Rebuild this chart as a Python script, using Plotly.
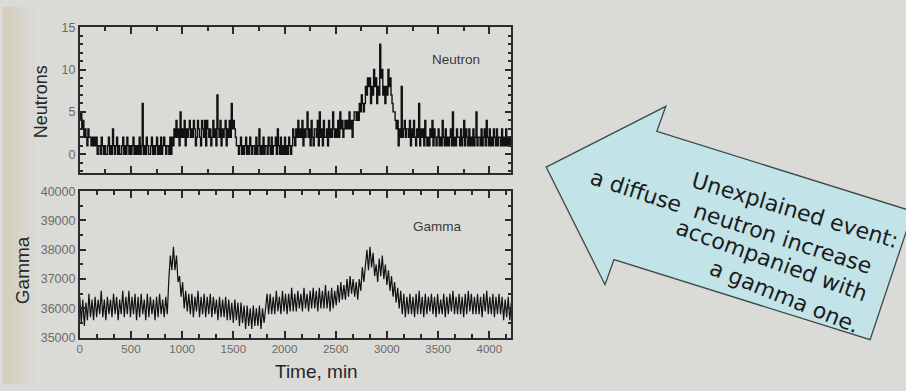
import plotly.graph_objects as go

W, H = 906, 391


def px_x(x):
    return x / W


def px_y(y):
    return 1 - y / H


# ---------------- data ----------------
time_neutron = list(range(0, 4230, 10))
neutron_counts = [
    4, 5, 3, 4, 2, 3, 2, 1, 3, 2, 2, 1, 2, 1, 2, 1, 2, 0, 1, 1,
    0, 2, 1, 0, 1, 0, 0, 1, 2, 0, 1, 0, 3, 1, 0, 1, 2, 0, 1, 0,
    0, 1, 2, 0, 1, 0, 2, 1, 0, 1, 0, 1, 2, 0, 1, 0, 1, 0, 2, 0,
    1, 6, 0, 1, 0, 2, 1, 0, 0, 1, 2, 0, 1, 0, 1, 2, 0, 1, 0, 2,
    0, 1, 2, 1, 0, 1, 1, 0, 2, 0, 2, 1, 3, 2, 4, 2, 3, 1, 5, 2,
    3, 2, 4, 1, 3, 2, 3, 4, 2, 3, 2, 4, 3, 1, 2, 4, 3, 2, 1, 4,
    3, 2, 4, 1, 4, 3, 2, 3, 1, 2, 4, 2, 3, 1, 7, 3, 2, 4, 1, 3,
    2, 3, 4, 1, 3, 2, 4, 2, 6, 3, 4, 3, 2, 1, 1, 0, 1, 2, 0, 1,
    0, 1, 2, 0, 1, 0, 2, 1, 0, 1, 1, 0, 2, 0, 1, 3, 0, 1, 0, 2,
    0, 1, 1, 0, 2, 1, 0, 2, 0, 1, 1, 2, 0, 3, 1, 0, 2, 0, 1, 0,
    2, 0, 1, 0, 2, 1, 0, 1, 3, 2, 1, 3, 2, 4, 2, 3, 2, 4, 1, 3,
    2, 3, 5, 2, 3, 1, 4, 2, 1, 3, 3, 2, 4, 1, 5, 2, 3, 1, 4, 2,
    2, 3, 1, 4, 2, 3, 2, 5, 3, 2, 3, 2, 4, 2, 5, 3, 4, 2, 3, 4,
    3, 4, 3, 5, 3, 4, 2, 4, 5, 5, 4, 5, 4, 6, 5, 7, 6, 5, 6, 8,
    7, 9, 8, 9, 6, 8, 7, 10, 8, 9, 6, 8, 7, 13, 9, 10, 7, 8, 6, 8,
    7, 10, 8, 9, 7, 6, 5, 5, 4, 3, 4, 1, 3, 2, 8, 2, 3, 4, 2, 3,
    3, 2, 4, 1, 3, 2, 4, 2, 1, 3, 2, 6, 1, 3, 2, 3, 1, 4, 2, 1,
    2, 1, 3, 2, 4, 1, 3, 2, 1, 2, 3, 1, 2, 1, 4, 2, 1, 3, 1, 2,
    1, 2, 3, 1, 5, 1, 2, 1, 3, 2, 2, 1, 3, 1, 2, 4, 1, 3, 2, 1,
    3, 1, 2, 1, 3, 1, 2, 5, 1, 2, 2, 1, 3, 1, 2, 3, 1, 4, 2, 1,
    3, 1, 2, 1, 3, 2, 1, 3, 1, 2, 2, 1, 3, 1, 2, 1, 3, 1, 2, 1,
    2, 1, 3,
]

time_gamma = list(range(0, 4230, 15))
gamma_counts = [
    36400, 35500, 36300, 35400, 36200, 35600, 36500, 35700, 36300, 35600,
    36400, 35700, 36300, 35800, 36600, 35700, 36300, 35600, 36400, 35800,
    36300, 35700, 36500, 35800, 36400, 35600, 36300, 35800, 36600, 35700,
    36400, 35800, 36600, 35700, 36400, 35800, 36500, 35600, 36400, 35700,
    36500, 35800, 36300, 35600, 36500, 35700, 36400, 35800, 36300, 35600,
    36400, 35700, 36500, 35800, 36300, 35700, 36400, 35800,
    37000, 37800, 37300, 38100, 37300, 37800, 36900, 37100, 36400, 36900,
    36000, 36600, 35900, 36500,
    35800, 36500, 35700, 36400, 35900, 36600, 35700, 36400, 35800, 36500,
    35700, 36400, 35800, 36500, 35700, 36400, 35800, 36300, 35600, 36400,
    35700, 36300, 35700, 36400, 35600, 36300, 35600, 36200,
    35500, 36300, 35600, 36200, 35400, 36200, 35500, 36100, 35300, 36100,
    35400, 36000, 35300, 36100, 35400, 36000, 35400, 36100, 35300, 36000,
    35500, 35900,
    36500, 35800, 36500, 35800, 36400, 35800, 36600, 35900, 36400, 35800,
    36600, 35900, 36500, 35800, 36500, 35900, 36700, 35900, 36500, 35900,
    36600, 36000, 36500, 35900, 36700, 36000, 36500, 35900, 36600, 36000,
    36700, 36000, 36600, 35900, 36700, 36000, 36600, 36000, 36800, 36000,
    36600, 35900, 36700, 36000, 36600,
    36100, 36800, 36200, 36900, 36300, 36800, 36300, 37000, 36400, 37100,
    36500, 37000, 36400, 36900, 36300, 37000, 36600, 37400, 36900,
    37600, 38000, 37300, 38100, 37400, 37900, 37100, 37500, 36900, 37700,
    37100, 37800, 37000, 37500, 36800, 37300, 36600, 37100, 36400, 36900,
    36200, 36700, 36000, 36600,
    35800, 36500, 35700, 36400, 35800, 36500, 35800, 36400, 35700, 36500,
    35800, 36600, 35800, 36400, 35700, 36500, 35800, 36400, 35900, 36500,
    35800, 36400, 35700, 36500, 35800, 36300, 35800, 36500, 35700, 36400,
    35800, 36500, 35900, 36600, 35800, 36400, 35800, 36500, 35800, 36400,
    35700, 36500, 35800, 36600, 35900, 36500, 35800, 36400, 35800, 36500,
    35800, 36400, 35700, 36500, 35900, 36600, 35800, 36400, 35800, 36500,
    35700, 36400, 35800, 36500, 35800, 36400, 35600, 36300, 35700, 36400,
    35600, 36200,
]

neutron_ticks = [0, 5, 10, 15]
gamma_ticks = [35000, 36000, 37000, 38000, 39000, 40000]
time_ticks = [0, 500, 1000, 1500, 2000, 2500, 3000, 3500, 4000]

callout_lines = [
    "Unexplained event:",
    "a diffuse  neutron increase",
    "accompanied with",
    "a gamma one.",
]

# ---------------- figure ----------------
BG = "#dadad7"
INK = "#111111"
AX = "#2b2b2b"
LBL = "#6a6a6a"
FONT = "Liberation Sans, Arial, sans-serif"

fig = go.Figure()
fig.add_trace(go.Scatter(
    x=time_neutron, y=neutron_counts, xaxis="x2", yaxis="y2", mode="lines",
    line=dict(color=INK, width=1.4, shape="hv"), showlegend=False, hoverinfo="skip"))
fig.add_trace(go.Scatter(
    x=time_gamma, y=gamma_counts, xaxis="x", yaxis="y", mode="lines",
    line=dict(color=INK, width=1.2), showlegend=False, hoverinfo="skip"))

base = dict(showline=True, linecolor=AX, linewidth=1.5, mirror="ticks",
            ticks="inside", ticklen=7, tickwidth=1.5, tickcolor=AX,
            showgrid=False, zeroline=False)


def minor(dt, t0):
    return dict(ticks="inside", ticklen=4, tickwidth=1.5, tickcolor=AX, tick0=t0, dtick=dt)


xdom = [px_x(77), px_x(510)]
fig.update_layout(
    width=W, height=H,
    margin=dict(l=0, r=0, t=0, b=0),
    paper_bgcolor=BG, plot_bgcolor=BG,
    font=dict(family=FONT, color=INK),
    xaxis=dict(**base, domain=xdom, anchor="y", range=[0, 4215],
               tickvals=time_ticks, ticktext=[str(v) for v in time_ticks],
               minor=minor(500 / 3, 0),
               tickfont=dict(size=11.5, color=LBL, family=FONT)),
    xaxis2=dict(**base, domain=xdom, anchor="y2", range=[0, 4215], matches="x",
                tickvals=time_ticks, showticklabels=False, minor=minor(250, 0)),
    yaxis=dict(**base, domain=[px_y(343), px_y(191)], anchor="x",
               range=[35000, 40000], tickvals=gamma_ticks,
               ticktext=[str(v) for v in gamma_ticks], minor=minor(500, 35000),
               tickfont=dict(size=12.5, color=LBL, family=FONT)),
    yaxis2=dict(**base, domain=[px_y(172), px_y(21)], anchor="x2",
                range=[-2.2, 15], tickvals=neutron_ticks,
                ticktext=[str(v) for v in neutron_ticks], minor=minor(1, 0),
                tickfont=dict(size=12.5, color=LBL, family=FONT)),
)

# faint warm tint at the left edge of the photographed slide (decoration)
for x1, op in [(4, 0.35), (9, 0.3), (14, 0.25), (19, 0.2), (25, 0.15), (32, 0.1)]:
    fig.add_shape(type="rect", xref="paper", yref="paper", x0=0, x1=px_x(x1), y0=0, y1=1,
                  fillcolor="#d4cbb2", opacity=op, line=dict(width=0), layer="below")

# callout arrow (decoration)
arrow_px = [(545, 166), (665, 103), (656, 129), (913, 212), (870, 345),
            (613, 262), (604, 288)]
path = "M " + " L ".join(f"{px_x(x):.5f},{px_y(y):.5f}" for x, y in arrow_px) + " Z"
fig.add_shape(type="path", xref="paper", yref="paper", path=path,
              fillcolor="#c2e4e8", line=dict(color="#3c4848", width=1.3), layer="above")

annotations = [
    dict(text="Neutrons", x=px_x(39), y=px_y(98), textangle=-90, font=dict(size=18, color="#262626")),
    dict(text="Gamma", x=px_x(19), y=px_y(273), textangle=-90, font=dict(size=19, color="#262626")),
    dict(text="Time, min", x=px_x(315), y=px_y(378), font=dict(size=19, color="#262626")),
    dict(text="Neutron", x=px_x(455), y=px_y(54), font=dict(size=13.5, color="#3a3a3a")),
    dict(text="Gamma", x=px_x(436), y=px_y(228), font=dict(size=13.5, color="#3a3a3a")),
]
line_places = [(795, 211, 16.7), (730, 222, 17.9), (771, 263, 19.8), (784, 300, 22.0)]
for txt, (cx, cy, ang) in zip(callout_lines, line_places):
    annotations.append(dict(text=txt.replace("  ", "&nbsp; "), x=px_x(cx), y=px_y(cy),
                            textangle=ang,
                            font=dict(size=22, color="#1c1c1c", family="DejaVu Sans")))
for a in annotations:
    a.update(xref="paper", yref="paper", showarrow=False, xanchor="center", yanchor="middle")
    a["font"].setdefault("family", FONT)
fig.update_layout(annotations=annotations)

fig.write_html("out.html")
